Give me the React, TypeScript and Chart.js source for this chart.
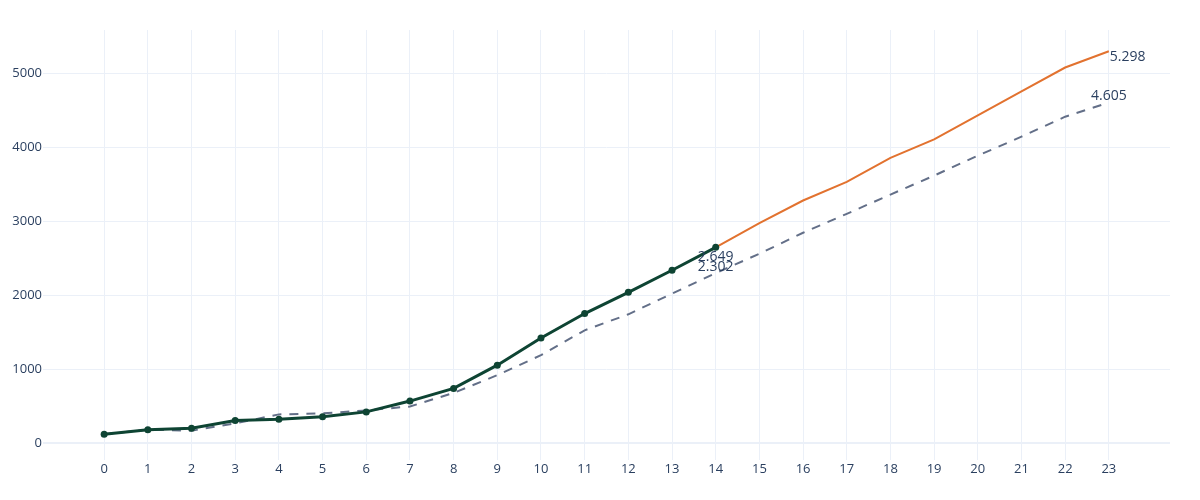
import React, { useEffect, useRef } from "react";
import { Chart, registerables } from "chart.js";

Chart.register(...registerables);

// ---- data ----
const categories = [0, 1, 2, 3, 4, 5, 6, 7, 8, 9, 10, 11, 12, 13, 14, 15, 16, 17, 18, 19, 20, 21, 22, 23];
const actualValues = [124, 186, 207, 310, 326, 361, 427, 573, 744, 1058, 1424, 1755, 2042, 2340, 2649];
const forecastStart = 14;
const forecastValues = [2649, 2976, 3282, 3534, 3857, 4108, 4431, 4755, 5078, 5298];
const baselineValues = [124, 186, 173, 272, 393, 407, 447, 500, 683, 923, 1193, 1529, 1745, 2024, 2302, 2563, 2846, 3102, 3362, 3618, 3888, 4144, 4414, 4605];
const yTicks = [0, 1000, 2000, 3000, 4000, 5000];
const annotationX = [14, 14, 23, 23];
const annotationY = [2649, 2302, 5298, 4605];

// ---- styles ----
const annotationStyle = [
  { align: "center", dx: 0, dy: 10 },
  { align: "center", dx: 0, dy: -6 },
  { align: "left", dx: 1, dy: 6 },
  { align: "center", dx: 0, dy: -7 },
];

const FONT = "'Open Sans', 'Liberation Sans', sans-serif";
const TEXT = "#2a3f5f";
const GRID = "#ebf0f8";

function fmt(v: number): string {
  const th = Math.floor(v / 1000);
  const rest = v % 1000;
  if (th === 0) return String(rest);
  return th + "." + String(rest).padStart(3, "0");
}

const annotationPlugin = {
  id: "valueAnnotations",
  afterDatasetsDraw(chart: any) {
    const ctx = chart.ctx;
    const xs = chart.scales.x;
    const ys = chart.scales.y;
    ctx.save();
    ctx.font = `14px ${FONT}`;
    ctx.fillStyle = TEXT;
    ctx.textBaseline = "middle";
    annotationX.forEach((xv, i) => {
      const st = annotationStyle[i];
      const px = xs.getPixelForValue(xv) + st.dx;
      const py = ys.getPixelForValue(annotationY[i]) + st.dy;
      ctx.textAlign = st.align;
      ctx.fillText(fmt(annotationY[i]), px, py);
    });
    ctx.restore();
  },
};

export default function App() {
  const canvasRef = useRef<HTMLCanvasElement | null>(null);

  useEffect(() => {
    if (!canvasRef.current) return;
    const actual = actualValues.map((v, i) => ({ x: categories[i], y: v }));
    const forecast = forecastValues.map((v, i) => ({ x: categories[forecastStart + i], y: v }));
    const baseline = baselineValues.map((v, i) => ({ x: categories[i], y: v }));

    const chart = new Chart(canvasRef.current, {
      type: "line",
      data: {
        datasets: [
          {
            label: "actual",
            data: actual,
            borderColor: "#0e4433",
            backgroundColor: "#0e4433",
            borderWidth: 3,
            pointRadius: 3.5,
            pointBorderWidth: 0,
            pointBackgroundColor: "#0e4433",
            tension: 0,
            order: 0,
          },
          {
            label: "forecast",
            data: forecast,
            borderColor: "#e2722f",
            borderWidth: 2,
            pointRadius: 0,
            tension: 0,
            order: 1,
          },
          {
            label: "baseline",
            data: baseline,
            borderColor: "#636f88",
            borderWidth: 2,
            borderDash: [9, 8],
            pointRadius: 0,
            tension: 0,
            order: 2,
          },
        ],
      },
      options: {
        animation: false,
        responsive: true,
        maintainAspectRatio: false,
        layout: { padding: { top: 30, right: 30, left: 0, bottom: 0 } },
        plugins: {
          legend: { display: false },
          tooltip: { enabled: false },
        },
        scales: {
          x: {
            type: "linear",
            min: -1.4,
            max: 24.4,
            afterBuildTicks: (scale: any) => {
              scale.ticks = categories.map((c) => ({ value: c }));
            },
            afterFit: (scale: any) => {
              scale.height = 40;
            },
            grid: { color: GRID, lineWidth: 1, drawTicks: false },
            border: { display: false },
            ticks: {
              color: TEXT,
              font: { family: FONT, size: 13 },
              padding: 1,
              maxRotation: 0,
              autoSkip: false,
              callback: (v: any) => String(v),
            },
          },
          y: {
            type: "linear",
            min: -223,
            max: 5585,
            afterBuildTicks: (scale: any) => {
              scale.ticks = yTicks.map((t) => ({ value: t }));
            },
            afterFit: (scale: any) => {
              scale.width = 43;
            },
            grid: {
              color: GRID,
              lineWidth: (c: any) => (c.tick && c.tick.value === 0 ? 2 : 1),
              drawTicks: false,
            },
            border: { display: false },
            ticks: {
              color: TEXT,
              font: { family: FONT, size: 13 },
              padding: 1,
              callback: (v: any) => String(v),
            },
          },
        },
      },
      plugins: [annotationPlugin],
    });
    return () => chart.destroy();
  }, []);

  return (
    <div style={{ position: "fixed", left: 0, top: 0, width: 1200, height: 500, background: "#fff" }}>
      <canvas ref={canvasRef} />
    </div>
  );
}
